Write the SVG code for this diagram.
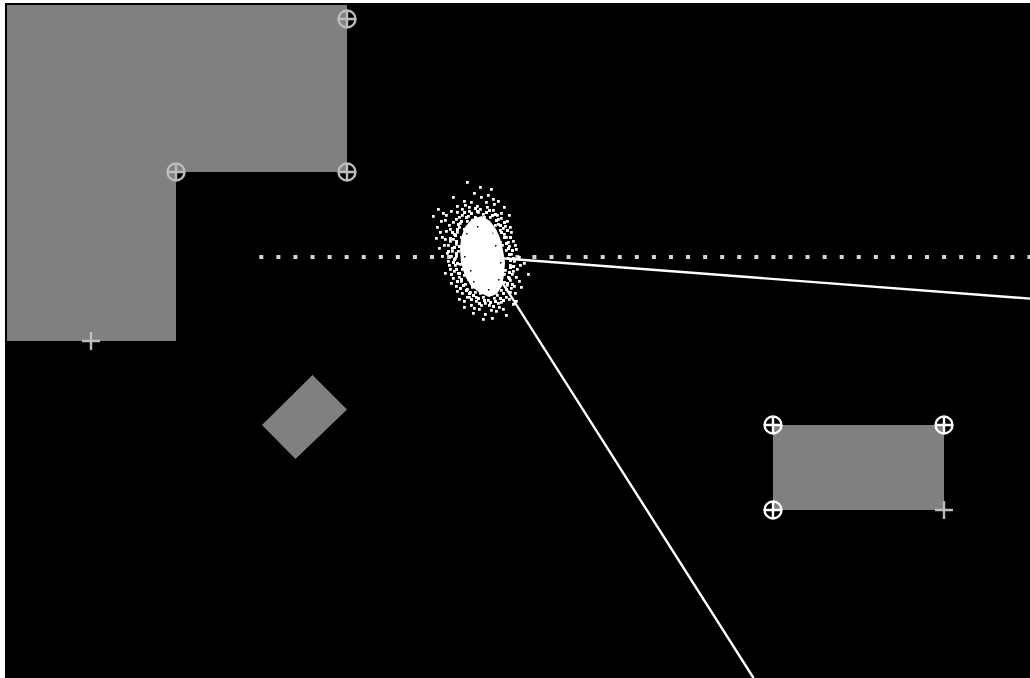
<svg xmlns="http://www.w3.org/2000/svg" xmlns:xlink="http://www.w3.org/1999/xlink" width="1030" height="678" viewBox="0 0 1030 678">
<style>
.shape{fill:#808080}
.mk{fill:none;stroke-width:2.4}
.mkg{stroke:#bdbdbd}
.mkw{stroke:#ffffff}
.ray{stroke:#ffffff;stroke-width:2.4;fill:none}
.dots{stroke:#d6d6d6;stroke-width:4;stroke-dasharray:4 13.07;fill:none}
.pt{fill:#ffffff}
.gap{fill:#000000}
</style>
<defs>
<g id="target"><circle cx="0" cy="0" r="8.5"/><path d="M-8.5 0H8.5M0 -8.5V8.5"/></g>
<g id="plus"><path d="M-9 0H9M0 -9V9"/></g>
</defs>
<rect x="0" y="0" width="1030" height="678" fill="#ffffff"/>
<rect x="5" y="3" width="1025" height="675" fill="#000000"/>
<g id="lshape">
<polygon class="shape" points="7,5 347,5 347,172 176,172 176,341 7,341"/>
<use href="#target" x="347" y="19" class="mk mkg"/>
<use href="#target" x="176" y="172" class="mk mkg"/>
<use href="#target" x="347" y="172" class="mk mkg"/>
<use href="#plus" x="91" y="341" class="mk mkg"/>
</g>
<g id="diamond">
<polygon class="shape" points="312.5,375 347,409.5 295.5,459 262,425"/>
</g>
<g id="rect">
<rect class="shape" x="773" y="425" width="171" height="85"/>
<use href="#target" x="773" y="425" class="mk mkw"/>
<use href="#target" x="944" y="425" class="mk mkw"/>
<use href="#target" x="773" y="510" class="mk mkw"/>
<use href="#plus" x="944" y="510" class="mk mkg"/>
</g>
<g id="connectors">
<line class="dots" x1="259.3" y1="257" x2="1030" y2="257"/>
<line class="ray" x1="486" y1="257" x2="1030" y2="298.6"/>
<line class="ray" x1="486" y1="257" x2="753.5" y2="678"/>
</g>
<g id="cluster">
<polygon class="pt" points="472,219 482,216 490,221 496,229 500,238 503,250 505,262 504,275 502,286 497,294 489,297 480,293 471,286 465,276 461,263 460,250 461,238 465,227"/>
<path class="gap" d="M466 233h1.5v1.5h-1.5zM495 245h1.5v1.5h-1.5zM470 270h1.5v1.5h-1.5zM498 279h1.5v1.5h-1.5zM477 226h1.5v1.5h-1.5zM464 256h1.5v1.5h-1.5zM488 289h1.5v1.5h-1.5zM500 262h1.5v1.5h-1.5zM473 281h1.5v1.5h-1.5zM492 232h1.5v1.5h-1.5z"/>
<path class="pt" d="M470 212h3v3h-3zM476 210h3v3h-3zM485 211h3v3h-3zM491 214h3v3h-3zM465 216h3v3h-3zM495 219h3v3h-3zM460 220h3v3h-3zM499 224h3v3h-3zM456 228h3v3h-3zM454 234h3v3h-3zM455 240h3v3h-3zM453 246h3v3h-3zM455 252h3v3h-3zM453 258h3v3h-3zM456 262h3v3h-3zM455 268h3v3h-3zM458 272h3v3h-3zM460 278h3v3h-3zM462 284h3v3h-3zM465 289h3v3h-3zM500 231h3v3h-3zM503 236h3v3h-3zM505 242h3v3h-3zM507 247h3v3h-3zM508 253h3v3h-3zM509 259h3v3h-3zM509 266h3v3h-3zM508 271h3v3h-3zM508 277h3v3h-3zM506 282h3v3h-3zM505 288h3v3h-3zM502 292h3v3h-3zM468 292h3v3h-3zM472 294h3v3h-3zM477 297h3v3h-3zM483 299h3v3h-3zM489 301h3v3h-3zM494 300h3v3h-3zM499 297h3v3h-3zM451 231h3v3h-3zM449 237h3v3h-3zM458 245h3v3h-3zM447 250h3v3h-3zM452 261h3v3h-3zM450 273h3v3h-3zM456 280h3v3h-3zM459 287h3v3h-3zM470 298h3v3h-3zM478 302h3v3h-3zM492 305h3v3h-3zM502 299h3v3h-3zM511 283h3v3h-3zM512 265h3v3h-3zM511 249h3v3h-3zM509 236h3v3h-3zM506 229h3v3h-3zM503 221h3v3h-3zM494 213h3v3h-3zM488 209h3v3h-3zM474 207h3v3h-3zM463 211h3v3h-3zM457 223h3v3h-3z"/>
<path class="pt" d="M466 181h2.8v2.8h-2.8zM479 186h2.8v2.8h-2.8zM490 188h2.8v2.8h-2.8zM487 194h2.8v2.8h-2.8zM480 196h2.8v2.8h-2.8zM463 200h2.8v2.8h-2.8zM470 201h2.8v2.8h-2.8zM497 200h2.8v2.8h-2.8zM456 205h2.8v2.8h-2.8zM476 205h2.8v2.8h-2.8zM486 206h2.8v2.8h-2.8zM450 210h2.8v2.8h-2.8zM492 209h2.8v2.8h-2.8zM468 210h2.8v2.8h-2.8zM500 212h2.8v2.8h-2.8zM461 214h2.8v2.8h-2.8zM482 213h2.8v2.8h-2.8zM437 208h2.8v2.8h-2.8zM445 214h2.8v2.8h-2.8zM474 216h2.8v2.8h-2.8zM489 216h2.8v2.8h-2.8zM455 218h2.8v2.8h-2.8zM497 218h2.8v2.8h-2.8zM440 220h2.8v2.8h-2.8zM466 220h2.8v2.8h-2.8zM506 220h2.8v2.8h-2.8zM448 224h2.8v2.8h-2.8zM483 221h2.8v2.8h-2.8zM458 226h2.8v2.8h-2.8zM494 224h2.8v2.8h-2.8zM436 226h2.8v2.8h-2.8zM471 226h2.8v2.8h-2.8zM502 227h2.8v2.8h-2.8zM445 230h2.8v2.8h-2.8zM453 233h2.8v2.8h-2.8zM510 231h2.8v2.8h-2.8zM441 236h2.8v2.8h-2.8zM505 236h2.8v2.8h-2.8zM449 240h2.8v2.8h-2.8zM512 240h2.8v2.8h-2.8zM443 244h2.8v2.8h-2.8zM508 245h2.8v2.8h-2.8zM451 247h2.8v2.8h-2.8zM515 248h2.8v2.8h-2.8zM446 252h2.8v2.8h-2.8zM510 253h2.8v2.8h-2.8zM455 255h2.8v2.8h-2.8zM447 260h2.8v2.8h-2.8zM513 260h2.8v2.8h-2.8zM454 264h2.8v2.8h-2.8zM449 268h2.8v2.8h-2.8zM516 268h2.8v2.8h-2.8zM457 272h2.8v2.8h-2.8zM511 273h2.8v2.8h-2.8zM527 273h2.8v2.8h-2.8zM452 277h2.8v2.8h-2.8zM460 280h2.8v2.8h-2.8zM518 280h2.8v2.8h-2.8zM455 285h2.8v2.8h-2.8zM466 288h2.8v2.8h-2.8zM510 287h2.8v2.8h-2.8zM461 292h2.8v2.8h-2.8zM514 292h2.8v2.8h-2.8zM468 296h2.8v2.8h-2.8zM505 296h2.8v2.8h-2.8zM458 298h2.8v2.8h-2.8zM475 300h2.8v2.8h-2.8zM500 301h2.8v2.8h-2.8zM470 304h2.8v2.8h-2.8zM488 304h2.8v2.8h-2.8zM512 303h2.8v2.8h-2.8zM478 308h2.8v2.8h-2.8zM495 310h2.8v2.8h-2.8zM463 306h2.8v2.8h-2.8zM484 313h2.8v2.8h-2.8zM505 314h2.8v2.8h-2.8zM491 317h2.8v2.8h-2.8zM472 312h2.8v2.8h-2.8zM498 306h2.8v2.8h-2.8zM482 296h2.8v2.8h-2.8zM515 300h2.8v2.8h-2.8zM520 286h2.8v2.8h-2.8zM523 262h2.8v2.8h-2.8zM518 256h2.8v2.8h-2.8zM441 255h2.8v2.8h-2.8zM438 247h2.8v2.8h-2.8zM444 238h2.8v2.8h-2.8zM432 215h2.8v2.8h-2.8zM452 196h2.8v2.8h-2.8zM473 192h2.8v2.8h-2.8zM492 198h2.8v2.8h-2.8zM503 206h2.8v2.8h-2.8zM508 214h2.8v2.8h-2.8zM461 208h2.8v2.8h-2.8zM477 211h2.8v2.8h-2.8zM496 214h2.8v2.8h-2.8zM459 222h2.8v2.8h-2.8zM467 215h2.8v2.8h-2.8zM478 219h2.8v2.8h-2.8zM487 221h2.8v2.8h-2.8zM499 229h2.8v2.8h-2.8zM456 231h2.8v2.8h-2.8zM463 228h2.8v2.8h-2.8zM474 223h2.8v2.8h-2.8zM492 230h2.8v2.8h-2.8zM503 233h2.8v2.8h-2.8zM452 238h2.8v2.8h-2.8zM460 236h2.8v2.8h-2.8zM496 237h2.8v2.8h-2.8zM507 241h2.8v2.8h-2.8zM455 243h2.8v2.8h-2.8zM501 244h2.8v2.8h-2.8zM457 250h2.8v2.8h-2.8zM505 249h2.8v2.8h-2.8zM454 257h2.8v2.8h-2.8zM462 259h2.8v2.8h-2.8zM507 257h2.8v2.8h-2.8zM459 263h2.8v2.8h-2.8zM509 264h2.8v2.8h-2.8zM461 268h2.8v2.8h-2.8zM504 269h2.8v2.8h-2.8zM463 274h2.8v2.8h-2.8zM507 276h2.8v2.8h-2.8zM467 278h2.8v2.8h-2.8zM503 281h2.8v2.8h-2.8zM464 283h2.8v2.8h-2.8zM471 286h2.8v2.8h-2.8zM500 289h2.8v2.8h-2.8zM506 284h2.8v2.8h-2.8zM474 291h2.8v2.8h-2.8zM496 294h2.8v2.8h-2.8zM479 292h2.8v2.8h-2.8zM487 299h2.8v2.8h-2.8zM493 297h2.8v2.8h-2.8zM469 291h2.8v2.8h-2.8zM484 302h2.8v2.8h-2.8zM509 279h2.8v2.8h-2.8zM512 270h2.8v2.8h-2.8zM502 262h2.8v2.8h-2.8zM465 247h2.8v2.8h-2.8zM470 231h2.8v2.8h-2.8zM486 228h2.8v2.8h-2.8zM497 223h2.8v2.8h-2.8zM481 289h2.8v2.8h-2.8zM490 291h2.8v2.8h-2.8zM475 296h2.8v2.8h-2.8zM458 216h2.8v2.8h-2.8zM471 219h2.8v2.8h-2.8zM483 216h2.8v2.8h-2.8zM449 228h2.8v2.8h-2.8zM462 240h2.8v2.8h-2.8zM450 255h2.8v2.8h-2.8zM458 276h2.8v2.8h-2.8zM497 302h2.8v2.8h-2.8zM480 304h2.8v2.8h-2.8zM509 291h2.8v2.8h-2.8zM512 257h2.8v2.8h-2.8zM509 226h2.8v2.8h-2.8zM499 241h2.8v2.8h-2.8zM503 273h2.8v2.8h-2.8zM466 296h2.8v2.8h-2.8zM453 270h2.8v2.8h-2.8zM447 244h2.8v2.8h-2.8zM492 285h2.8v2.8h-2.8zM468 206h2.8v2.8h-2.8zM485 201h2.8v2.8h-2.8zM456 211h2.8v2.8h-2.8zM464 204h2.8v2.8h-2.8zM479 208h2.8v2.8h-2.8zM452 221h2.8v2.8h-2.8zM444 219h2.8v2.8h-2.8zM439 231h2.8v2.8h-2.8zM451 250h2.8v2.8h-2.8zM448 264h2.8v2.8h-2.8zM456 290h2.8v2.8h-2.8zM463 300h2.8v2.8h-2.8zM473 307h2.8v2.8h-2.8zM490 309h2.8v2.8h-2.8zM502 308h2.8v2.8h-2.8zM508 298h2.8v2.8h-2.8zM513 285h2.8v2.8h-2.8zM515 276h2.8v2.8h-2.8zM514 244h2.8v2.8h-2.8zM504 225h2.8v2.8h-2.8zM500 217h2.8v2.8h-2.8zM493 203h2.8v2.8h-2.8zM442 212h2.8v2.8h-2.8zM435 237h2.8v2.8h-2.8zM444 272h2.8v2.8h-2.8zM450 282h2.8v2.8h-2.8zM519 264h2.8v2.8h-2.8zM482 318h2.8v2.8h-2.8z"/>
</g>
</svg>
